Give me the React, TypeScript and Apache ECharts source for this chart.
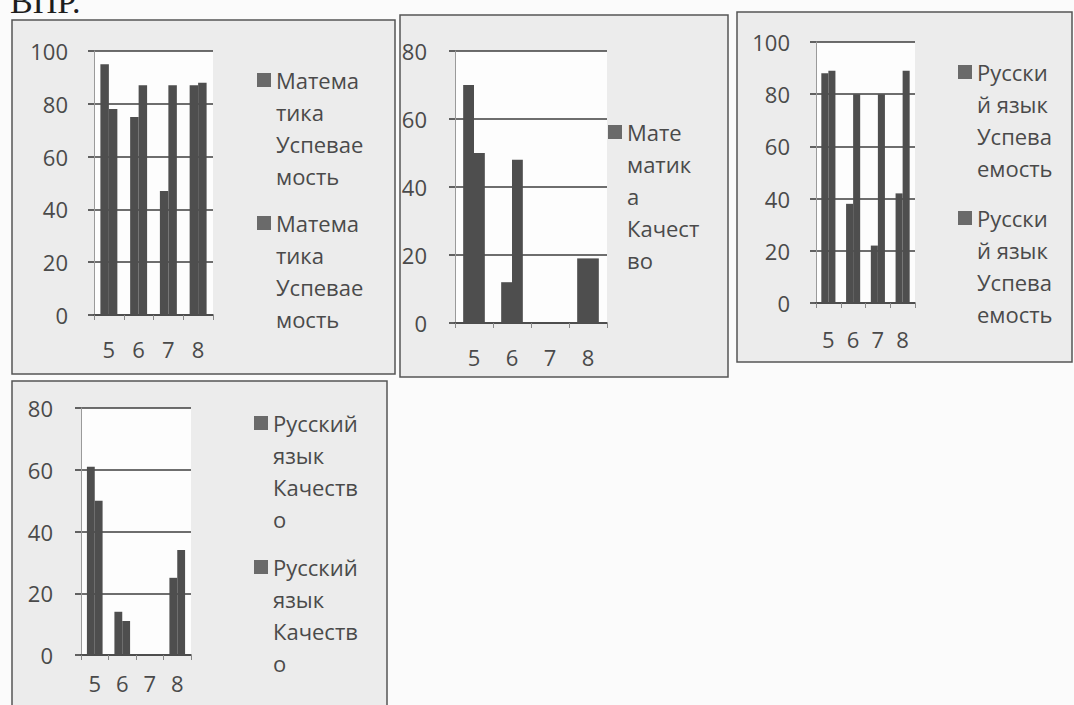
import React, { useEffect, useRef } from "react";
import * as echarts from "echarts";

// ---- data ----
const categories = ["5", "6", "7", "8"];

const mathSuccessA = [95, 75, 47, 87];
const mathSuccessB = [78, 87, 87, 88];
const mathQualityA = [70, 12, 0, 19];
const mathQualityB = [50, 48, 0, 19];
const rusSuccessA = [88, 38, 22, 42];
const rusSuccessB = [89, 80, 80, 89];
const rusQualityA = [61, 14, 0, 25];
const rusQualityB = [50, 11, 0, 34];

const mathSuccessName = "Математика Успеваемость";
const mathQualityName = "Математика Качество";
const rusSuccessName = "Русский язык Успеваемость";
const rusQualityName = "Русский язык Качество";

// legend labels as wrapped in the picture
const mathSuccessLines = ["Матема", "тика", "Успевае", "мость"];
const mathQualityLines = ["Мате", "матик", "а", "Качест", "во"];
const rusSuccessLines = ["Русски", "й язык", "Успева", "емость"];
const rusQualityLines = ["Русский", "язык", "Качеств", "о"];

const headingText = "ВПР.";

// ---- styles ----
const FONT = "'Open Sans', 'Noto Sans', sans-serif";
const BAR = "#4e4e4e";
const GRID_LINE = "#3e3e3e";
const TEXT = "#4a4a4a";
const LINE_H = 32;

function legendItem(name: string, lines: string[], left: number, top: number) {
  const h = lines.length * LINE_H;
  const icon = `path://M0,0h0.01v0.01h-0.01zM0,9h14v14h-14zM0,${h - 0.01}h0.01v0.01h-0.01z`;
  return {
    orient: "vertical",
    left,
    top,
    padding: 0,
    itemWidth: 14,
    itemHeight: h,
    icon,
    selectedMode: false,
    data: [name],
    itemStyle: { color: "#6a6a6a" },
    formatter: () => lines.join("\n"),
    textStyle: { fontFamily: FONT, fontSize: 22, lineHeight: LINE_H, color: TEXT },
  };
}

const gridBox = [
  { left: 94, top: 51, width: 119, height: 264 },
  { left: 455, top: 51, width: 152, height: 272 },
  { left: 816, top: 42, width: 99, height: 261 },
  { left: 81, top: 408, width: 110, height: 247 },
];
const yMax = [100, 80, 100, 80];
const yLabelMargin = [26, 28, 26, 28];
const xLabelMargin = [23, 23, 25, 17];

export default function App() {
  const ref = useRef<HTMLDivElement>(null);

  useEffect(() => {
    if (!ref.current) return;
    const chart = echarts.init(ref.current, null, { renderer: "svg" });

    const barBase = {
      type: "bar",
      barGap: "0%",
      barCategoryGap: "43%",
      silent: true,
      itemStyle: { color: BAR },
    };

    const option: any = {
      animation: false,
      backgroundColor: "#fbfbfb",
      textStyle: { fontFamily: FONT },
      grid: gridBox.map((g) => ({
        ...g,
        show: true,
        backgroundColor: "#fdfdfd",
        borderWidth: 0,
        containLabel: false,
      })),
      xAxis: gridBox.map((_, i) => ({
        type: "category",
        gridIndex: i,
        data: categories,
        axisLine: { show: true, lineStyle: { color: "#444", width: 1.6 } },
        axisTick: { show: true, length: 5, lineStyle: { color: "#888", width: 1 } },
        axisLabel: {
          interval: 0,
          margin: xLabelMargin[i],
          fontSize: 22,
          color: TEXT,
          fontFamily: FONT,
        },
      })),
      yAxis: gridBox.map((_, i) => ({
        type: "value",
        gridIndex: i,
        min: 0,
        max: yMax[i],
        interval: 20,
        axisLine: { show: true, lineStyle: { color: "#9a9a9a", width: 1 } },
        axisTick: { show: true, length: 6, lineStyle: { color: GRID_LINE, width: 1.6 } },
        splitLine: { show: true, lineStyle: { color: GRID_LINE, width: 1.6 } },
        axisLabel: {
          margin: yLabelMargin[i],
          fontSize: 22,
          color: TEXT,
          fontFamily: FONT,
        },
      })),
      legend: [
        legendItem(mathSuccessName, mathSuccessLines, 257, 64),
        legendItem(mathSuccessName, mathSuccessLines, 257, 207),
        legendItem(mathQualityName, mathQualityLines, 608, 116),
        legendItem(rusSuccessName, rusSuccessLines, 958, 56),
        legendItem(rusSuccessName, rusSuccessLines, 958, 202),
        legendItem(rusQualityName, rusQualityLines, 254, 407),
        legendItem(rusQualityName, rusQualityLines, 254, 551),
      ],
      series: [
        { ...barBase, name: mathSuccessName, xAxisIndex: 0, yAxisIndex: 0, data: mathSuccessA },
        { ...barBase, name: mathSuccessName, xAxisIndex: 0, yAxisIndex: 0, data: mathSuccessB },
        { ...barBase, name: mathQualityName, xAxisIndex: 1, yAxisIndex: 1, data: mathQualityA },
        { ...barBase, name: mathQualityName, xAxisIndex: 1, yAxisIndex: 1, data: mathQualityB },
        { ...barBase, name: rusSuccessName, xAxisIndex: 2, yAxisIndex: 2, data: rusSuccessA },
        { ...barBase, name: rusSuccessName, xAxisIndex: 2, yAxisIndex: 2, data: rusSuccessB },
        { ...barBase, name: rusQualityName, xAxisIndex: 3, yAxisIndex: 3, data: rusQualityA },
        { ...barBase, name: rusQualityName, xAxisIndex: 3, yAxisIndex: 3, data: rusQualityB },
      ],
      graphic: [
        {
          type: "rect",
          z: -10,
          shape: { x: 12, y: 20, width: 383, height: 354 },
          style: { fill: "#ececec", stroke: "#555", lineWidth: 1.5 },
        },
        {
          type: "rect",
          z: -10,
          shape: { x: 400, y: 15, width: 328, height: 362 },
          style: { fill: "#ececec", stroke: "#555", lineWidth: 1.5 },
        },
        {
          type: "rect",
          z: -10,
          shape: { x: 737, y: 12, width: 335, height: 350 },
          style: { fill: "#ececec", stroke: "#555", lineWidth: 1.5 },
        },
        {
          type: "rect",
          z: -10,
          shape: { x: 12, y: 381, width: 375, height: 340 },
          style: { fill: "#ececec", stroke: "#555", lineWidth: 1.5 },
        },
        {
          type: "text",
          z: -5,
          x: 10,
          y: -16,
          style: {
            text: headingText,
            fontSize: 34,
            fontFamily: "'Liberation Serif', serif",
            fill: "#1e1e1e",
            verticalAlign: "top",
          },
        },
      ],
    };

    chart.setOption(option);
    return () => chart.dispose();
  }, []);

  return (
    <div
      ref={ref}
      style={{ position: "fixed", left: 0, top: 0, width: 1074, height: 705 }}
    />
  );
}
